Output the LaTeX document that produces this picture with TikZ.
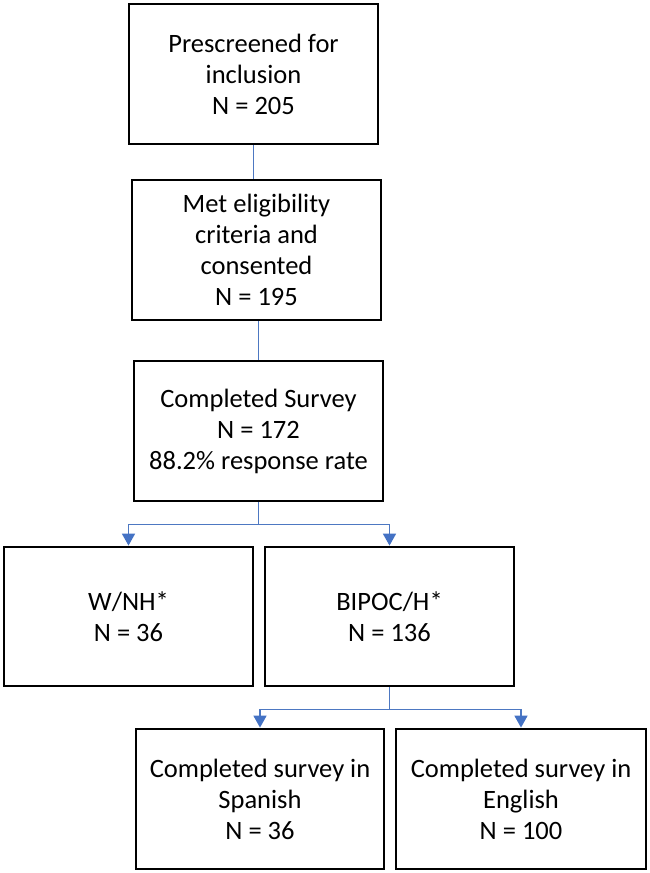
\documentclass[tikz,border=0pt]{standalone}
\usepackage{fontspec}
\setmainfont{Carlito}
\usetikzlibrary{arrows.meta}
\definecolor{lineblue}{HTML}{4D78C2}
\definecolor{headblue}{HTML}{4472C4}
\begin{document}
\begin{tikzpicture}[
  box/.style={draw=black, line width=2.8pt, minimum width=249pt, minimum height=140pt,
    align=center, inner sep=0pt, font=\fontsize{26.5pt}{31pt}\selectfont},
  link/.style={draw=lineblue, line width=1.6pt},
  arr/.style={link, -{Triangle[width=13pt,length=12pt,fill=headblue,color=headblue]}}
]
\useasboundingbox[fill=white] (0,0) rectangle (650pt,-873pt);
\node[box] (b1) at (253.5pt,-74pt) {Prescreened for\\inclusion\\N = 205};
\node[box] (b2) at (256.5pt,-250pt) {Met eligibility\\criteria and\\consented\\N = 195};
\node[box] (b3) at (258.5pt,-431pt) {Completed Survey\\N = 172\\88.2\% response rate};
\node[box, minimum height=139pt] (b4) at (128.5pt,-616.5pt) {W/NH*\\N = 36};
\node[box, minimum height=139pt] (b5) at (389.5pt,-616.5pt) {BIPOC/H*\\N = 136};
\node[box, minimum width=248pt] (b6) at (260pt,-799pt) {Completed survey in\\Spanish\\N = 36};
\node[box, minimum width=250pt] (b7) at (521pt,-799pt) {Completed survey in\\English\\N = 100};
\draw[link] (b1.south) -- (b1.south |- b2.north);
\draw[link] (b3.north |- b2.south) -- (b3.north);
\draw[arr] (b3.south) -- ++(0,-22pt) -| (b4.north);
\draw[arr] (b3.south) -- ++(0,-22pt) -| (b5.north);
\draw[arr] (b5.south) -- ++(0,-22pt) -| (b6.north);
\draw[arr] (b5.south) -- ++(0,-22pt) -| (b7.north);
\end{tikzpicture}
\end{document}
